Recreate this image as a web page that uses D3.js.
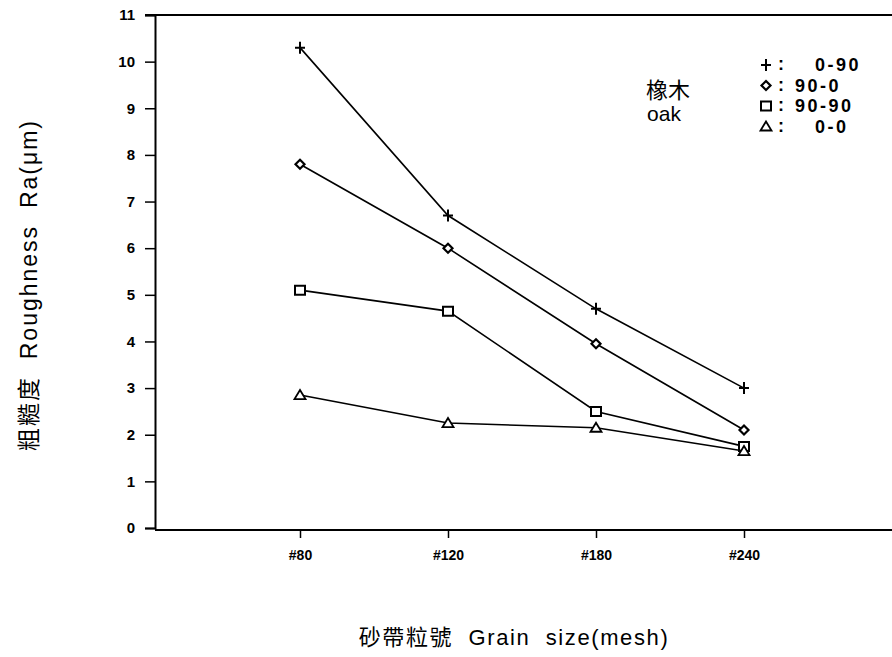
<!DOCTYPE html>
<html>
<head>
<meta charset="utf-8">
<script src="https://cdn.jsdelivr.net/npm/d3@7"></script>
<style>
  body { margin: 0; background: #fff; }
  svg { display: block; font-family: "Liberation Sans", Arial, "Noto Sans CJK TC", sans-serif; }
  text { white-space: pre; }
</style>
</head>
<body>
<div id="chart"></div>
<script>
const grainSizes = ['#80', '#120', '#180', '#240'];
const yTicks = [0, 1, 2, 3, 4, 5, 6, 7, 8, 9, 10, 11];

const series0_90 = [10.3, 6.7, 4.7, 3.0];
const series90_0 = [7.8, 6.0, 3.95, 2.1];
const series90_90 = [5.1, 4.65, 2.5, 1.75];
const series0_0 = [2.85, 2.25, 2.15, 1.65];

const seriesList = [
  { name: '0-90', symbol: 'plus', values: series0_90 },
  { name: '90-0', symbol: 'diamond', values: series90_0 },
  { name: '90-90', symbol: 'square', values: series90_90 },
  { name: '0-0', symbol: 'triangle', values: series0_0 }
];

const width = 892, height = 657;
const plot = { left: 155, right: 892, top: 15, bottom: 528 };

const svg = d3.select('#chart').append('svg')
  .attr('width', width)
  .attr('height', height);

const x = d3.scalePoint()
  .domain(grainSizes)
  .range([152, 892])
  .padding(1);

const y = d3.scaleLinear()
  .domain([0, 11])
  .range([plot.bottom, plot.top]);

// frame top line
svg.append('line')
  .attr('x1', plot.left - 10).attr('x2', plot.right)
  .attr('y1', plot.top).attr('y2', plot.top)
  .attr('stroke', '#000').attr('stroke-width', 2);

// y axis
const yAxis = svg.append('g')
  .attr('transform', `translate(${plot.left},0)`)
  .call(d3.axisLeft(y).tickValues(yTicks).tickSize(10).tickPadding(10).tickFormat(d3.format('d')));
yAxis.select('.domain').attr('stroke-width', 2);
yAxis.selectAll('.tick line').attr('stroke-width', 1.5);
yAxis.selectAll('text')
  .style('font-size', '15px').style('font-weight', 'bold')
  .style('font-family', '"Liberation Sans", Arial, sans-serif')
  .attr('fill', '#000');

// x axis
const xAxis = svg.append('g')
  .attr('transform', `translate(0,${plot.bottom + 2})`)
  .call(d3.axisBottom(x).tickSize(8).tickPadding(12).tickSizeOuter(0));
xAxis.select('.domain').attr('d', `M${plot.left},0H${plot.right}`).attr('stroke-width', 2);
xAxis.selectAll('.tick line').attr('stroke-width', 1.5);
xAxis.selectAll('text')
  .style('font-size', '14px').style('font-weight', 'bold')
  .style('font-family', '"Liberation Sans", Arial, sans-serif')
  .attr('fill', '#000');

// lines
const line = d3.line()
  .x((d, i) => x(grainSizes[i]))
  .y(d => y(d));

function drawMarker(g, type, cx, cy) {
  const m = g.append('path')
    .attr('stroke', '#000').attr('fill', '#fff').attr('stroke-width', 1.8);
  if (type === 'plus') {
    m.attr('d', `M${cx - 5},${cy}H${cx + 5}M${cx},${cy - 6}V${cy + 6}`)
      .attr('fill', 'none').attr('stroke-width', 2);
  } else if (type === 'diamond') {
    m.attr('d', `M${cx},${cy - 4.5}L${cx + 4.5},${cy}L${cx},${cy + 4.5}L${cx - 4.5},${cy}Z`)
      .attr('stroke-width', 2.2);
  } else if (type === 'square') {
    m.attr('d', `M${cx - 5},${cy - 4.5}H${cx + 5}V${cy + 4.5}H${cx - 5}Z`)
      .attr('stroke-width', 2);
  } else {
    m.attr('d', `M${cx},${cy - 5}L${cx + 5.5},${cy + 4}H${cx - 5.5}Z`)
      .attr('stroke-width', 1.8);
  }
}

seriesList.forEach(s => {
  svg.append('path')
    .datum(s.values)
    .attr('d', line)
    .attr('fill', 'none')
    .attr('stroke', '#000')
    .attr('stroke-width', 1.6);
  const g = svg.append('g');
  s.values.forEach((v, i) => drawMarker(g, s.symbol, x(grainSizes[i]), y(v)));
});

// species label
svg.append('text')
  .attr('x', 668).attr('y', 98)
  .attr('text-anchor', 'middle')
  .attr('font-size', 22)
  .text('橡木');
svg.append('text')
  .attr('x', 664).attr('y', 121)
  .attr('text-anchor', 'middle')
  .attr('font-size', 21)
  .text('oak');

// legend
const legend = svg.append('g');
seriesList.forEach((s, i) => {
  const ly = 65 + i * 20.5;
  drawMarker(legend, s.symbol, 766, ly);
  legend.append('text')
    .attr('x', 778).attr('y', ly + 5)
    .attr('font-size', 18).attr('font-weight', 'bold')
    .text(':');
  legend.append('text')
    .attr('x', s.name.startsWith('0') ? 815 : 795).attr('y', ly + 6)
    .attr('font-size', 18).attr('font-weight', 'bold')
    .attr('letter-spacing', 2.5)
    .text(s.name);
});

// axis titles
svg.append('text')
  .attr('transform', 'translate(37,285) rotate(-90)')
  .attr('text-anchor', 'middle')
  .attr('font-size', 23)
  .attr('letter-spacing', 2)
  .text('粗糙度  Roughness  Ra(μm)');

svg.append('text')
  .attr('x', 514).attr('y', 645)
  .attr('text-anchor', 'middle')
  .attr('font-size', 22)
  .attr('letter-spacing', 1.6)
  .text('砂帶粒號  Grain  size(mesh)');
</script>
</body>
</html>
